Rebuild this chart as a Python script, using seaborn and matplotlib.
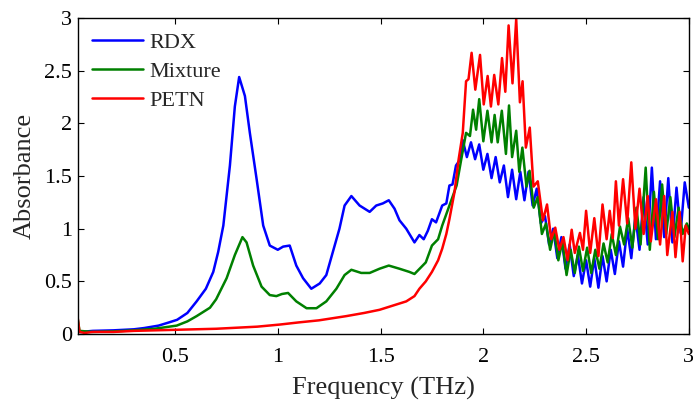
import pandas as pd
import matplotlib
matplotlib.use("Agg")
import matplotlib.pyplot as plt
import seaborn as sns

# Absorbance spectra (frequency in THz)
freq_rdx = [0.026, 0.04, 0.10, 0.20, 0.30, 0.35, 0.42, 0.47, 0.51, 0.56,
            0.605, 0.65, 0.686, 0.71, 0.735, 0.767, 0.791, 0.812, 0.84, 0.864,
            0.897, 0.929, 0.961, 1.00, 1.026, 1.058, 1.09, 1.123, 1.163, 1.204,
            1.236, 1.268, 1.30, 1.325, 1.358, 1.398, 1.447, 1.479, 1.511, 1.54,
            1.568, 1.592, 1.625, 1.665, 1.689, 1.71, 1.73, 1.75, 1.77, 1.80,
            1.82, 1.835, 1.85, 1.867, 1.885,
            1.90, 1.92, 1.94, 1.96, 1.98, 2.00, 2.02, 2.04, 2.06, 2.08,
            2.10, 2.12, 2.14, 2.16, 2.18, 2.20, 2.22, 2.24, 2.26, 2.28,
            2.30, 2.32, 2.34, 2.36, 2.38, 2.40, 2.42, 2.44, 2.46, 2.48,
            2.50, 2.52, 2.54, 2.56, 2.58, 2.60, 2.62, 2.64, 2.66, 2.68,
            2.70, 2.72, 2.74, 2.76, 2.78, 2.80, 2.82, 2.84, 2.86, 2.88,
            2.90, 2.92, 2.94, 2.96, 2.98, 3.00]
abs_rdx = [0.03, 0.02, 0.03, 0.035, 0.045, 0.057, 0.08, 0.11, 0.135, 0.20,
           0.31, 0.43, 0.59, 0.78, 1.03, 1.60, 2.16, 2.44, 2.26, 1.91,
           1.47, 1.03, 0.84, 0.80, 0.83, 0.84, 0.65, 0.53, 0.43, 0.48,
           0.56, 0.78, 1.00, 1.22, 1.31, 1.22, 1.16, 1.22, 1.24, 1.27,
           1.19, 1.08, 1.00, 0.87, 0.94, 0.90, 0.98, 1.09, 1.06, 1.22,
           1.24, 1.41, 1.42, 1.60, 1.65,
           1.84, 1.68, 1.82, 1.66, 1.80, 1.56, 1.71, 1.48, 1.68, 1.44,
           1.60, 1.30, 1.56, 1.28, 1.54, 1.27, 1.54, 1.22, 1.38, 1.05,
           1.12, 0.85, 1.00, 0.72, 0.92, 0.62, 0.85, 0.55, 0.75, 0.48,
           0.70, 0.45, 0.72, 0.44, 0.74, 0.50, 0.80, 0.57, 0.88, 0.64,
           1.00, 0.72, 1.12, 0.80, 1.30, 0.85, 1.58, 0.90, 1.45, 0.92,
           1.48, 0.87, 1.39, 0.96, 1.44, 1.20]

freq_mix = [0.026, 0.035, 0.10, 0.20, 0.30, 0.40, 0.508, 0.56, 0.605, 0.67,
            0.70, 0.751, 0.791, 0.828, 0.848, 0.88, 0.921, 0.961, 0.993, 1.02,
            1.05, 1.09, 1.14, 1.188, 1.236, 1.285, 1.325, 1.358, 1.406, 1.447,
            1.495, 1.54, 1.592, 1.64, 1.665, 1.69, 1.72, 1.75, 1.78, 1.80,
            1.835, 1.87, 1.89, 1.916,
            1.935, 1.95, 1.965, 1.98, 2.00, 2.02, 2.04, 2.055, 2.07, 2.09,
            2.11, 2.125, 2.14, 2.16, 2.175, 2.19, 2.21, 2.225, 2.245, 2.265,
            2.285, 2.305, 2.325, 2.345, 2.365, 2.385, 2.405, 2.425, 2.445, 2.465,
            2.485, 2.505, 2.525, 2.545, 2.565, 2.585, 2.605, 2.625, 2.645, 2.665,
            2.685, 2.705, 2.725, 2.745, 2.765, 2.79, 2.81, 2.83, 2.85, 2.87,
            2.89, 2.91, 2.93, 2.95, 2.97, 2.99, 3.00]
abs_mix = [0.15, 0.03, 0.02, 0.025, 0.035, 0.05, 0.08, 0.12, 0.17, 0.25,
           0.33, 0.53, 0.75, 0.92, 0.87, 0.65, 0.45, 0.37, 0.36, 0.38,
           0.39, 0.31, 0.245, 0.245, 0.31, 0.43, 0.56, 0.61, 0.58, 0.58,
           0.62, 0.65, 0.62, 0.59, 0.57, 0.62, 0.68, 0.84, 0.90, 1.03,
           1.22, 1.41, 1.63, 1.91,
           1.88, 2.13, 1.94, 2.23, 1.83, 2.12, 1.82, 2.08, 1.82, 2.12,
           1.71, 2.17, 1.68, 1.93, 1.54, 1.77, 1.40, 1.55, 1.20, 1.30,
           0.95, 1.05, 0.80, 0.98, 0.70, 0.88, 0.56, 0.80, 0.58, 0.83,
           0.60, 0.82, 0.58, 0.80, 0.62, 0.86, 0.68, 0.95, 0.75, 1.02,
           0.85, 1.10, 0.82, 1.20, 0.85, 1.58, 0.80, 1.35, 0.90, 1.42,
           0.95, 1.30, 0.92, 1.20, 0.95, 1.05, 1.00]

freq_petn = [0.026, 0.035, 0.06, 0.10, 0.20, 0.30, 0.40, 0.50, 0.60, 0.70,
             0.80, 0.90, 1.01, 1.10, 1.20, 1.333, 1.42, 1.495, 1.56, 1.625,
             1.665, 1.689, 1.72, 1.75, 1.78, 1.80, 1.82, 1.835, 1.86, 1.88,
             1.90, 1.916, 1.928,
             1.943, 1.961, 1.984, 2.002, 2.021, 2.037, 2.053, 2.073, 2.091, 2.107,
             2.123, 2.142, 2.160, 2.178, 2.191, 2.207, 2.226, 2.244, 2.265, 2.29,
             2.31, 2.33, 2.35, 2.37, 2.39, 2.41, 2.43, 2.445, 2.47, 2.485,
             2.50, 2.52, 2.54, 2.56, 2.58, 2.60, 2.615, 2.63, 2.645, 2.66,
             2.68, 2.70, 2.72, 2.74, 2.76, 2.78, 2.80, 2.815, 2.84, 2.86,
             2.88, 2.895, 2.92, 2.935, 2.955, 2.97, 2.985, 3.00]
abs_petn = [0.16, 0.02, 0.01, 0.02, 0.02, 0.03, 0.035, 0.04, 0.045, 0.05,
            0.06, 0.07, 0.09, 0.11, 0.13, 0.17, 0.20, 0.23, 0.27, 0.31,
            0.36, 0.43, 0.50, 0.59, 0.70, 0.81, 0.95, 1.09, 1.35, 1.66,
            1.91, 2.40, 2.42,
            2.67, 2.32, 2.65, 2.18, 2.45, 2.16, 2.46, 2.18, 2.62, 2.30,
            2.93, 2.38, 2.99, 2.20, 2.40, 1.77, 1.96, 1.40, 1.45, 1.08,
            1.23, 0.90, 1.01, 0.80, 0.92, 0.70, 0.99, 0.77, 0.96, 0.80,
            1.17, 0.77, 1.10, 0.74, 1.23, 0.90, 1.17, 0.91, 1.45, 1.03,
            1.47, 1.05, 1.63, 1.00, 1.38, 0.95, 1.31, 0.88, 1.28, 0.85,
            1.31, 0.75, 1.16, 0.73, 1.16, 0.69, 1.03, 0.95]

samples = ["RDX", "Mixture", "PETN"]
colors = {"RDX": "#0000ff", "Mixture": "#008000", "PETN": "#ff0000"}

frames = []
for name, f, a in zip(samples, [freq_rdx, freq_mix, freq_petn], [abs_rdx, abs_mix, abs_petn]):
    frames.append(pd.DataFrame({"freq": f, "absorbance": a, "sample": name}))
df = pd.concat(frames, ignore_index=True)

sns.set_style("ticks")
plt.rcParams["font.family"] = ["Liberation Serif", "DejaVu Serif"]

fig = plt.figure(figsize=(6.93, 4.01), dpi=100)
ax = fig.add_axes([0.112, 0.167, 0.882, 0.788])

sns.lineplot(data=df, x="freq", y="absorbance", hue="sample", hue_order=samples,
             palette=colors, estimator=None, sort=False, linewidth=1.8, ax=ax)

ax.set_xlim(0.026, 3.0)
ax.set_ylim(0, 3)
ax.set_xticks([0.5, 1, 1.5, 2, 2.5, 3])
ax.set_xticklabels(["0.5", "1", "1.5", "2", "2.5", "3"])
ax.set_yticks([0, 0.5, 1, 1.5, 2, 2.5, 3])
ax.set_yticklabels(["0", "0.5", "1", "1.5", "2", "2.5", "3"])
ax.tick_params(direction="in", top=True, right=True, length=4, width=0.8,
               labelsize=16, colors="black")
ax.tick_params(axis="x", pad=10)
ax.tick_params(axis="y", pad=4)
for s in ax.spines.values():
    s.set_visible(True)
    s.set_linewidth(1.0)
    s.set_color("black")

ax.set_xlabel("Frequency (THz)", fontsize=19, labelpad=7)
ax.set_ylabel("Absorbance", fontsize=19, labelpad=6)

ax.legend(loc="upper left", frameon=False, fontsize=16, handlelength=2.3,
          handletextpad=0.3, labelspacing=0.38, borderaxespad=0.45, borderpad=0.2)

fig.savefig("out.png", dpi=100)
